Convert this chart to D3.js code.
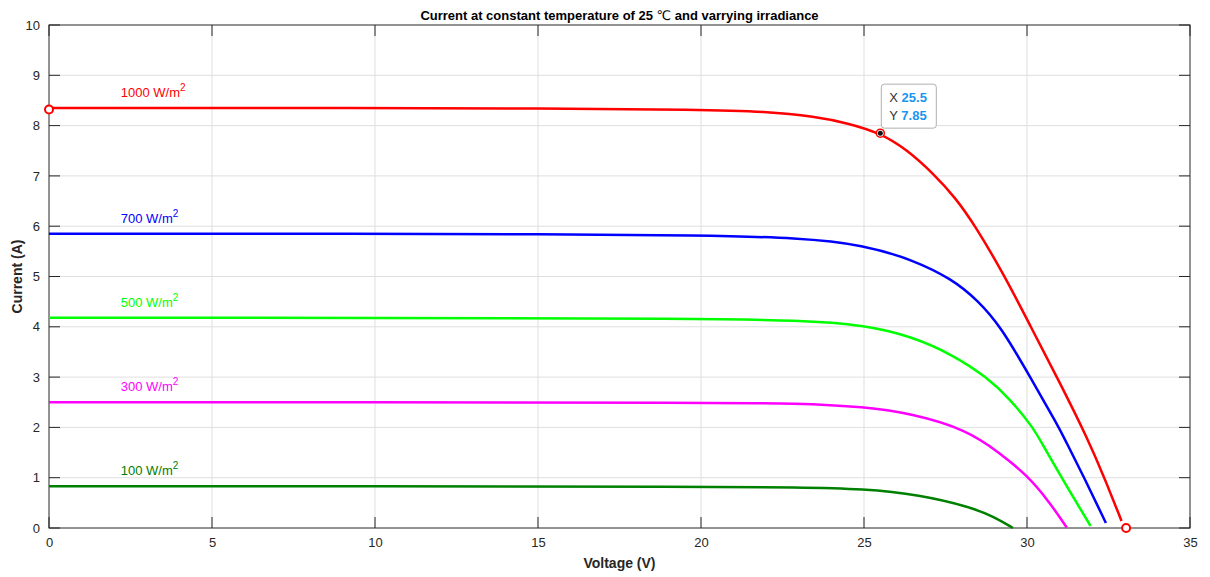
<!DOCTYPE html>
<html><head><meta charset="utf-8">
<script src="https://cdn.jsdelivr.net/npm/d3@7"></script>
<style>body{margin:0;background:#fff}svg{display:block;font-family:"Liberation Sans",Arial,sans-serif}</style>
</head><body><svg id="c" width="1210" height="577"></svg>
<script>
const xTicks=[0,5,10,15,20,25,30,35];
const yTicks=[0,1,2,3,4,5,6,7,8,9,10];
const s1000=[[0,8.35],[10,8.35],[15,8.34],[20,8.32],[22,8.28],[23.5,8.18],[24.5,8.05],[25.5,7.85],[26.3,7.53],[27.12,7.05],[27.8,6.57],[28.4,6.02],[29.3,5.03],[30.1,4.02],[31.0,2.9],[31.88,1.75],[32.36,1.02],[32.9,0.14]];
const s700=[[0,5.85],[10,5.85],[15,5.84],[20,5.82],[23,5.77],[25,5.63],[26.5,5.33],[27.7,4.95],[28.5,4.52],[29.2,4.0],[30.1,3.0],[30.98,2.0],[31.17,1.75],[31.74,1.02],[32.42,0.1]];
const s500=[[0,4.18],[10,4.18],[20,4.16],[23,4.13],[25,4.04],[26.5,3.8],[27.7,3.45],[28.77,3.0],[29.5,2.55],[30.18,2.0],[30.4,1.75],[31.06,1.0],[31.95,0.04]];
const s300=[[0,2.5],[10,2.5],[20,2.49],[23,2.48],[25,2.41],[26.5,2.27],[28.16,1.95],[29.17,1.49],[30,1.05],[30.65,0.55],[31.22,0.01]];
const s100=[[0,0.83],[10,0.83],[20,0.82],[23,0.81],[25,0.78],[26.7,0.66],[28.25,0.42],[29,0.22],[29.57,0]];
const seriesNames=["1000","700","500","300","100"];
const seriesColors=["#ff0000","#0000ff","#00ff00","#ff00ff","#008000"];
const labelPos=[[2.2,8.57],[2.2,6.07],[2.2,4.4],[2.2,2.72],[2.2,1.05]];
const endMarkers=[[0,8.32],[33.04,0]];
const tip=[25.5,7.85];

const svg=d3.select("#c");
const L=49,R=1190,T=25,B=528;
const x=d3.scaleLinear().domain([0,35]).range([L,R]);
const y=d3.scaleLinear().domain([0,10]).range([B,T]);
const g=svg.append("g");
g.selectAll(".gx").data(xTicks.slice(1,-1)).enter().append("line").attr("x1",d=>x(d)).attr("x2",d=>x(d)).attr("y1",T).attr("y2",B).attr("stroke","#dfdfdf").attr("stroke-width",1);
g.selectAll(".gy").data(yTicks.slice(1,-1)).enter().append("line").attr("y1",d=>y(d)).attr("y2",d=>y(d)).attr("x1",L).attr("x2",R).attr("stroke","#dfdfdf").attr("stroke-width",1);
const ax=d3.axisBottom(x).tickValues(xTicks).tickSize(0).tickPadding(10);
const ay=d3.axisLeft(y).tickValues(yTicks).tickSize(0).tickPadding(9);
const gx=svg.append("g").attr("transform",`translate(0,${B})`).call(ax);
const gy=svg.append("g").attr("transform",`translate(${L},0)`).call(ay);
[gx,gy].forEach(a=>{a.select(".domain").remove();a.selectAll("text").attr("fill","#262626").style("font-size","13px").style("font-family","Liberation Sans, Arial")});
const tc="#262626";
xTicks.forEach(t=>{svg.append("line").attr("x1",x(t)).attr("x2",x(t)).attr("y1",B).attr("y2",B-11).attr("stroke",tc);svg.append("line").attr("x1",x(t)).attr("x2",x(t)).attr("y1",T).attr("y2",T+11).attr("stroke",tc);});
yTicks.forEach(t=>{svg.append("line").attr("y1",y(t)).attr("y2",y(t)).attr("x1",L).attr("x2",L+11).attr("stroke",tc);svg.append("line").attr("y1",y(t)).attr("y2",y(t)).attr("x1",R).attr("x2",R-11).attr("stroke",tc);});
svg.append("rect").attr("x",L).attr("y",T).attr("width",R-L).attr("height",B-T).attr("fill","none").attr("stroke",tc).attr("stroke-width",1);
const line=d3.line().x(d=>x(d[0])).y(d=>y(d[1])).curve(d3.curveBasis);
const all=[s1000,s700,s500,s300,s100];
all.forEach((s,i)=>{svg.append("path").datum(s).attr("d",line).attr("fill","none").attr("stroke",seriesColors[i]).attr("stroke-width",2.5);});
seriesNames.forEach((n,i)=>{
  const t=svg.append("text").attr("x",x(labelPos[i][0])).attr("y",y(labelPos[i][1])).attr("fill",seriesColors[i]).style("font-size","13px");
  t.append("tspan").text(n+" W/m");
  t.append("tspan").attr("dy",-6).style("font-size","10px").text("2");
});
svg.selectAll(".em").data(endMarkers).enter().append("circle").attr("cx",d=>x(d[0])).attr("cy",d=>y(d[1])).attr("r",4).attr("fill","#fff").attr("stroke","#ff0000").attr("stroke-width",2);
svg.append("circle").attr("cx",x(tip[0])).attr("cy",y(tip[1])).attr("r",4).attr("fill","#fff").attr("stroke","#ff0000").attr("stroke-width",1.5);
svg.append("circle").attr("cx",x(tip[0])).attr("cy",y(tip[1])).attr("r",2.5).attr("fill","#111");
const bx=x(tip[0])+1,by=y(tip[1])-49;
svg.append("rect").attr("x",bx).attr("y",by).attr("width",55).attr("height",44).attr("rx",3).attr("fill","#fff").attr("stroke","#b0b0b0").attr("stroke-width",1);
[["X",tip[0]],["Y",tip[1]]].forEach((r,i)=>{
  const t=svg.append("text").attr("x",bx+8).attr("y",by+18+i*18).style("font-size","13px");
  t.append("tspan").attr("fill","#333").text(r[0]+" ");
  t.append("tspan").attr("fill","#1a96f0").style("font-weight","bold").text(r[1]);
});
const title=svg.append("text").attr("x",(L+R)/2).attr("y",20).attr("text-anchor","middle").style("font-size","13px").style("font-weight","bold").attr("fill","#000");
title.append("tspan").text("Current at constant temperature of 25 ");
title.append("tspan").style("font-weight","normal").style("font-family","DejaVu Sans").style("font-size","13px").text("\u2103");
title.append("tspan").text(" and varrying irradiance");
svg.append("text").attr("x",(L+R)/2).attr("y",568).attr("text-anchor","middle").style("font-size","14px").style("font-weight","bold").attr("fill","#262626").text("Voltage (V)");
svg.append("text").attr("transform",`translate(22,${(T+B)/2}) rotate(-90)`).attr("text-anchor","middle").style("font-size","14px").style("font-weight","bold").attr("fill","#262626").text("Current (A)");
</script></body></html>
